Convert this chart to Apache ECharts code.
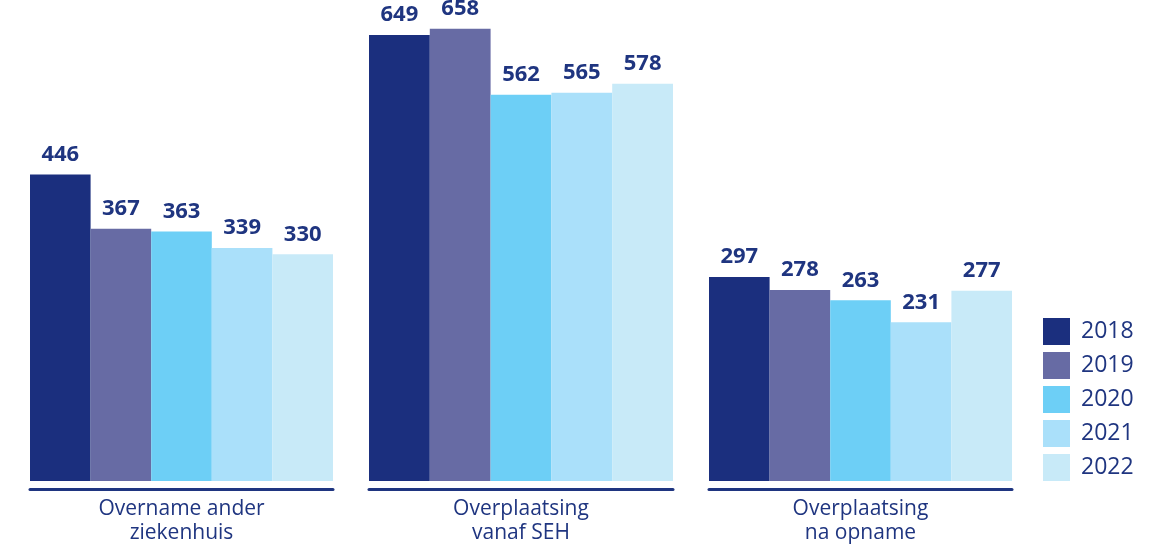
<!DOCTYPE html>
<html>
<head>
<meta charset="utf-8">
<script src="https://cdn.jsdelivr.net/npm/echarts@6/dist/echarts.min.js"></script>
<style>
  html, body { margin: 0; padding: 0; background: #ffffff; }
  #chart { width: 1171px; height: 545px; }
</style>
</head>
<body>
<div id="chart"></div>
<script>
// Categories (one panel each) and yearly values
const categories = ['Overname ander\nziekenhuis', 'Overplaatsing\nvanaf SEH', 'Overplaatsing\nna opname'];
const years = ['2018', '2019', '2020', '2021', '2022'];
const values2018 = [446, 649, 297];
const values2019 = [367, 658, 278];
const values2020 = [363, 562, 263];
const values2021 = [339, 565, 231];
const values2022 = [330, 578, 277];

const yearValues = [values2018, values2019, values2020, values2021, values2022];
const yearColors = ['#1b2f7e', '#676ba4', '#6dcff6', '#aae0fa', '#c8eaf8'];
const navy = '#1f3580';
const font = '"Open Sans", "Noto Sans", sans-serif';

// One grid per category so each panel gets its own underline
const panels = [
  { left: 30, width: 303 },
  { left: 369, width: 304 },
  { left: 709, width: 303 }
];

const grids = panels.map(p => ({ left: p.left, width: p.width, top: 0, bottom: 64 }));

const xAxes = categories.map((c, g) => ({
  type: 'category',
  gridIndex: g,
  data: [c],
  offset: 8,
  axisLine: { onZero: false, lineStyle: { color: navy, width: 3 } },
  axisTick: { show: false },
  axisLabel: {
    interval: 0,
    margin: 8,
    color: navy,
    fontFamily: font,
    fontSize: 21,
    lineHeight: 24
  }
}));

const yAxes = categories.map((c, g) => ({
  type: 'value',
  gridIndex: g,
  min: 0,
  max: 700,
  show: false,
  splitLine: { show: false }
}));

const series = [];
categories.forEach((c, g) => {
  years.forEach((y, i) => {
    series.push({
      type: 'bar',
      name: y,
      xAxisIndex: g,
      yAxisIndex: g,
      data: [yearValues[i][g]],
      barGap: '0%',
      barCategoryGap: '0%',
      itemStyle: { color: yearColors[i] },
      label: {
        show: true,
        position: 'top',
        distance: 9,
        color: navy,
        fontFamily: font,
        fontWeight: 'bold',
        fontSize: 22
      }
    });
  });
});

const chart = echarts.init(document.getElementById('chart'));
chart.setOption({
  animation: false,
  color: yearColors,
  grid: grids,
  xAxis: xAxes,
  yAxis: yAxes,
  legend: {
    data: years,
    orient: 'vertical',
    left: 1038,
    top: 313,
    icon: 'rect',
    itemWidth: 27,
    itemHeight: 27,
    itemGap: 7,
    textStyle: { color: navy, fontFamily: font, fontSize: 23, padding: [0, 0, 0, 6] }
  },
  series: series
});
</script>
</body>
</html>
